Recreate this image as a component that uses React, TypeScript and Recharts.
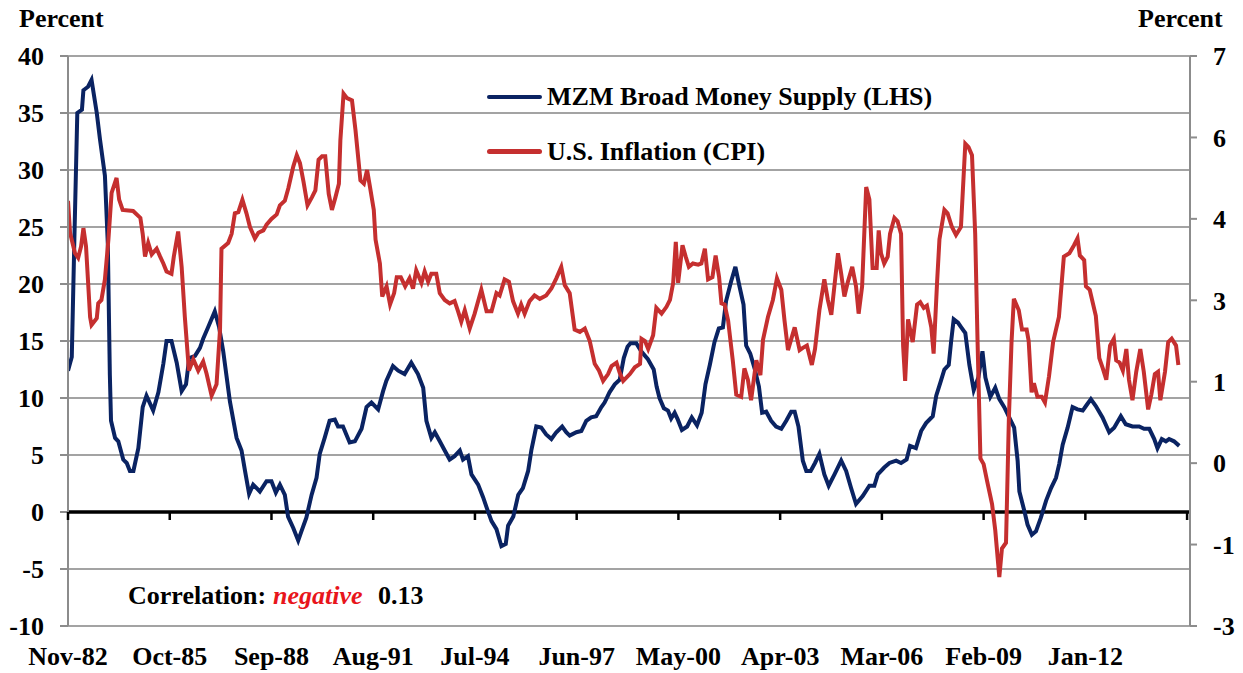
import React from 'react';
import { LineChart, Line, XAxis, YAxis, CartesianGrid, ReferenceLine, Legend } from 'recharts';

const FONT = "'Liberation Serif', 'Times New Roman', serif";

// x axis: months counted from Nov-82
const X_TICKS = [0, 35, 70, 105, 140, 175, 210, 245, 280, 315, 350, 385];
const X_LABELS = ['Nov-82', 'Oct-85', 'Sep-88', 'Aug-91', 'Jul-94', 'Jun-97', 'May-00', 'Apr-03', 'Mar-06', 'Feb-09', 'Jan-12', ''];

const LEFT_TICKS = [-10, -5, 0, 5, 10, 15, 20, 25, 30, 35, 40];
// right axis is split in 7 equal steps, labels rounded like the original
const RIGHT_TICKS = [-3, -1.571, -0.143, 1.286, 2.714, 4.143, 5.571, 7];
const RIGHT_LABELS = ['-3', '-1', '0', '1', '3', '4', '6', '7'];

// MZM growth, % y/y (LHS): [month, value]
const mzmGrowth: [number, number][] = [
  [0, 12.4], [1.3, 13.6], [2.2, 24], [3.2, 35], [4.8, 35.3], [5.3, 37], [6.9, 37.3], [8.1, 37.9],
  [9.9, 35], [11, 32.7], [12.7, 29.5], [13.7, 23.5], [14.4, 12], [14.8, 8], [16.2, 6.5], [17.3, 6.2],
  [19, 4.6], [20.2, 4.3], [21.3, 3.6], [22.5, 3.6], [24.2, 5.6], [25.7, 9.2], [27, 10.2], [29.3, 8.9],
  [31.1, 10.5], [32.8, 13], [33.9, 15], [35.6, 15], [37.4, 13.1], [39.1, 10.6], [40.6, 11.2], [41.7, 13.5],
  [43.7, 13.7], [45.4, 14.4], [46.5, 15.2], [48.2, 16.2], [50.5, 17.6], [52, 16.2], [53.4, 14.1], [55.7, 9.7],
  [58, 6.5], [59.7, 5.4], [60.9, 3.6], [62.3, 1.6], [63.7, 2.4], [66, 1.8], [68.3, 2.7], [70, 2.7],
  [71.5, 1.7], [72.9, 2.4], [74.6, 1.5], [75.7, -0.4], [77.5, -1.4], [79.2, -2.5], [80.3, -1.7], [82, -0.5],
  [83.8, 1.5], [85.5, 3], [86.6, 5.1], [88.3, 6.5], [90, 8], [91.8, 8.1], [92.9, 7.5], [94.6, 7.5],
  [96.9, 6.1], [98.7, 6.2], [101, 7.3], [102.7, 9.2], [104.4, 9.6], [106.7, 9], [108.4, 10.6], [109.5, 11.5],
  [111.8, 12.8], [113.6, 12.4], [115.8, 12.1], [118.1, 13.1], [120.4, 12.1], [122.2, 10.9], [123.3, 8], [125, 6.5],
  [126.2, 7], [127.9, 6.2], [129.6, 5.4], [131.3, 4.6], [133, 4.9], [134.8, 5.4], [135.9, 4.6], [137.6, 4.9],
  [138.8, 3.3], [141.1, 2.4], [142.8, 1.3], [144, 0.4], [145.7, -0.8], [147.4, -1.5], [149.1, -3], [150.6, -2.8],
  [151.4, -1.2], [153.2, -0.4], [154.9, 1.5], [156.5, 2.1], [158.3, 3.6], [159.4, 5.4], [161.1, 7.5], [162.8, 7.4],
  [164.5, 6.8], [166.3, 6.4], [168, 7], [170, 7.5], [171.4, 7], [172.6, 6.7], [174.9, 7], [176.6, 7.1],
  [178.3, 8], [180, 8.3], [181.7, 8.4], [183.5, 9.2], [184.6, 9.6], [186.3, 10.5], [188.1, 11.2], [189.8, 11.6],
  [191.2, 13.5], [192.5, 14.5], [193.5, 14.8], [195.5, 14.8], [197.2, 14.1], [199.5, 13.4], [201.5, 12.5], [202.5, 11],
  [203.5, 10], [205, 9.1], [206.4, 8.9], [207.5, 8.2], [208.7, 8.7], [209.8, 8.1], [211.2, 7.2], [213, 7.5],
  [214.6, 8.3], [216.4, 7.6], [218, 8.7], [219.3, 11.2], [220.8, 12.9], [222.4, 14.9], [223.9, 16.1], [225.3, 16.2],
  [226.4, 18.5], [228.1, 20.2], [229.6, 21.5], [231, 19.8], [232.4, 18.2], [233.3, 14.6], [234.7, 13.9], [236.2, 12.6],
  [237.7, 11], [238.8, 8.7], [240.2, 8.8], [241.9, 8], [243.6, 7.5], [245.4, 7.3], [247.1, 8], [248.8, 8.8],
  [250, 8.8], [251.3, 7.5], [252.8, 4.5], [254, 3.6], [255.5, 3.6], [257, 4.3], [258.5, 5.1], [260.2, 3.3],
  [261.7, 2.3], [263.7, 3.3], [266, 4.5], [267.7, 3.6], [269.4, 2.1], [271.1, 0.7], [273.4, 1.4], [275.7, 2.3],
  [277.4, 2.3], [278.6, 3.3], [280.8, 3.9], [282.6, 4.3], [284.9, 4.5], [286.6, 4.3], [288.5, 4.6], [289.7, 5.8],
  [291.7, 5.6], [293.5, 7.1], [295.2, 7.8], [297.5, 8.4], [298.7, 10.2], [300.3, 11.5], [301.5, 12.5], [303, 12.9],
  [303.8, 14.9], [304.7, 16.9], [306.2, 16.6], [307.3, 16.2], [308.7, 15.7], [310.1, 12.9], [311.6, 10.7], [313.2, 11.8],
  [314.6, 14.1], [315.6, 11.8], [317.3, 10.1], [319, 10.9], [320.4, 9.9], [322.1, 9.2], [323.8, 8.3], [325.5, 7.4],
  [326.7, 4.5], [327.3, 1.8], [329, 0.1], [330.1, -1.1], [331.6, -2], [333, -1.7], [334.7, -0.5], [336.5, 1],
  [338.2, 2.1], [339.9, 3], [341, 4.2], [342.2, 5.9], [343.9, 7.4], [345.6, 9.2], [347.3, 9], [349.1, 8.9],
  [350.2, 9.3], [351.9, 9.9], [353.6, 9.3], [355.9, 8.3], [358.2, 7], [359.9, 7.4], [362.2, 8.4], [363.9, 7.7],
  [366.2, 7.5], [368.5, 7.5], [370.2, 7.3], [372, 7.3], [373.7, 6.4], [374.8, 5.6], [376.3, 6.4], [377.7, 6.2],
  [378.8, 6.4], [380.5, 6.2], [382.3, 5.8],
];

// CPI inflation, % y/y (RHS): [month, value]
const cpiInflation: [number, number][] = [
  [0, 4.46], [0.7, 3.9], [2.4, 3.54], [3.5, 3.46], [4.5, 3.66], [5.3, 3.98], [6.2, 3.66], [7.6, 2.42],
  [8.1, 2.28], [9.9, 2.4], [10.4, 2.66], [11.5, 2.72], [12.7, 3.08], [13.9, 3.78], [15, 4.6], [16.7, 4.86],
  [17.6, 4.48], [18.8, 4.3], [22.4, 4.28], [24.9, 4.16], [25.7, 3.88], [26.5, 3.48], [27.6, 3.72], [28.8, 3.52],
  [30.5, 3.62], [31.7, 3.48], [32.8, 3.36], [33.9, 3.22], [35.6, 3.18], [36.4, 3.48], [37.9, 3.92], [39.1, 3.3],
  [40.2, 2.42], [41.6, 1.48], [43.1, 1.68], [44.8, 1.48], [46.5, 1.64], [47.7, 1.42], [49.4, 1.04], [51.1, 1.24],
  [52.3, 2.2], [52.8, 3.62], [55.1, 3.72], [56.3, 3.88], [57.4, 4.24], [58.6, 4.26], [60, 4.48], [61.4, 4.24],
  [62.6, 4.0], [64.3, 3.8], [65.5, 3.9], [67.2, 3.94], [68.3, 4.04], [70, 4.14], [71.8, 4.22], [72.9, 4.38],
  [74.6, 4.46], [75.8, 4.68], [77.5, 5.06], [78.7, 5.26], [79.8, 5.12], [81, 4.8], [82.4, 4.38], [83.9, 4.52],
  [85.1, 4.64], [86.2, 5.18], [87.4, 5.24], [88.5, 5.24], [89.7, 4.58], [90.8, 4.3], [92, 4.52], [93.2, 4.76],
  [93.7, 5.52], [94.8, 6.34], [96, 6.26], [97.7, 6.22], [98.9, 5.7], [100.6, 4.82], [101.8, 4.76], [102.9, 5.0],
  [103.9, 4.7], [105.2, 4.3], [105.8, 3.78], [107.3, 3.36], [108.1, 2.78], [109.6, 2.96], [110.8, 2.64], [112.2, 2.84],
  [113.1, 3.12], [114.5, 3.12], [116, 2.96], [117.5, 3.1], [118.7, 2.92], [119.8, 3.24], [121.6, 3.02], [122.7, 3.22],
  [123.9, 3.04], [125, 3.18], [126.7, 3.18], [127.9, 2.84], [129.6, 2.72], [131.3, 2.66], [133, 2.7], [134.2, 2.52],
  [135.3, 2.34], [136.5, 2.54], [138.2, 2.22], [139.9, 2.48], [142.2, 2.9], [144, 2.52], [145.7, 2.52], [147.4, 2.84],
  [148.5, 2.8], [150.2, 3.08], [151.7, 3.04], [153.1, 2.7], [154.8, 2.48], [155.9, 2.64], [157.1, 2.48], [158.8, 2.7],
  [160.5, 2.8], [162.3, 2.74], [164.5, 2.8], [166.3, 2.92], [168, 3.1], [169.7, 3.3], [170.9, 2.98], [172.6, 2.84],
  [174.3, 2.2], [176.1, 2.16], [177.8, 2.22], [179.5, 2.0], [181.2, 1.6], [182.7, 1.48], [184.1, 1.3], [185.8, 1.42],
  [187, 1.56], [188.7, 1.62], [189.8, 1.44], [191, 1.3], [193.3, 1.42], [195, 1.54], [196.8, 1.6], [197.3, 2.04],
  [198.5, 2.0], [199.6, 1.86], [201.3, 2.1], [202.4, 2.58], [204.2, 2.48], [205.9, 2.6], [207.1, 2.72], [208.2, 3.02],
  [209.1, 3.74], [209.9, 3.02], [211.4, 3.68], [212.5, 3.48], [213.6, 3.3], [215, 3.36], [216.8, 3.34], [217.9, 3.36],
  [219.1, 3.62], [220.2, 3.08], [221.7, 3.12], [222.8, 3.5], [224, 3.12], [224.8, 2.66], [225.9, 2.64], [227.1, 2.36],
  [228.7, 1.66], [229.9, 1.06], [231.6, 1.02], [232.7, 1.52], [233.9, 1.32], [235, 0.96], [236.8, 1.66], [238.2, 1.4],
  [239.1, 2.02], [240.8, 2.42], [242.5, 2.72], [243.9, 3.1], [245.4, 2.9], [246.5, 2.36], [247.7, 1.84], [250, 2.24],
  [251.7, 1.84], [252.8, 1.88], [254.2, 1.92], [255.9, 1.58], [257, 1.86], [258.5, 2.54], [260.2, 3.08], [261.4, 2.72],
  [262.6, 2.46], [263.7, 2.98], [264.9, 3.54], [266, 3.18], [267.1, 2.78], [268.3, 3.04], [269.8, 3.3], [271.1, 2.96],
  [272, 2.48], [273.2, 2.96], [274.6, 4.7], [275.7, 4.48], [276.8, 3.28], [278.2, 3.28], [278.9, 3.94], [279.7, 3.54],
  [280.8, 3.36], [282, 3.48], [282.8, 3.88], [284.3, 4.16], [285.4, 4.1], [286.6, 3.88], [287.3, 1.92], [288, 1.3],
  [289, 2.38], [290.6, 1.98], [292.1, 2.64], [293.2, 2.68], [294.4, 2.58], [295.5, 2.62], [297, 2.24], [297.8, 1.78],
  [299, 3.04], [299.8, 3.78], [301.5, 4.3], [302.6, 4.24], [304.1, 4.0], [305.5, 3.86], [307.2, 4.0], [308.7, 5.46],
  [309.8, 5.4], [311, 5.26], [312.1, 3.88], [312.9, 2.02], [313.9, -0.06], [315, -0.16], [316.2, -0.46], [317.9, -0.86],
  [319, -1.32], [320.4, -2.14], [321.3, -1.64], [322.7, -1.54], [323.7, 0.66], [324.6, 1.98], [325.4, 2.74], [327.1, 2.54],
  [328.2, 2.2], [329.8, 2.2], [330.5, 2.0], [331.5, 1.1], [332.3, 1.26], [333.5, 1.02], [335, 1.02], [336.1, 0.92],
  [337.5, 1.38], [338.9, 1.98], [340.9, 2.42], [342.6, 3.48], [344.5, 3.54], [346.1, 3.68], [347.3, 3.8], [348.1, 3.5],
  [349.6, 3.42], [350.2, 2.96], [351.5, 2.9], [353.6, 2.44], [354.8, 1.7], [356, 1.52], [357.2, 1.32], [358.5, 1.92],
  [359.8, 2.04], [360.6, 1.66], [361.8, 1.62], [362.9, 1.48], [364.1, 1.86], [365, 1.32], [366.2, 0.96], [367.5, 1.46],
  [368.9, 1.86], [370.1, 1.46], [371.6, 0.8], [372.7, 1.06], [373.9, 1.42], [375, 1.46], [375.8, 0.96], [377.4, 1.46],
  [378.5, 1.98], [379.7, 2.04], [381.2, 1.92], [382, 1.58],
];

const mzmData = mzmGrowth.map(([m, v]) => ({ m, v }));
const cpiData = cpiInflation.map(([m, v]) => ({ m, v }));

const W = 1243;
const H = 673;
const PLOT_TOP = 56;
const PLOT_H = 570;
const LEFT_MIN = -10;
const LEFT_MAX = 40;
const ZERO_Y = PLOT_TOP + (PLOT_H * LEFT_MAX) / (LEFT_MAX - LEFT_MIN);

const tickText = { fontFamily: FONT, fontWeight: 'bold' as const, fontSize: 26, fill: '#000' };

const XTick = (props: any) => {
  const { x, y, payload } = props;
  const i = X_TICKS.indexOf(payload.value);
  return (
    <g>
      <line x1={x} x2={x} y1={ZERO_Y} y2={ZERO_Y + 8} stroke="#000" strokeWidth={2.5} />
      <text x={x} y={y} dy={18.5} textAnchor="middle" style={tickText}>
        {X_LABELS[i]}
      </text>
    </g>
  );
};

const renderLegend = (props: any) => (
  <div style={{ fontFamily: FONT, fontWeight: 'bold', fontSize: 26, color: '#000' }}>
    {props.payload.map((item: any) => (
      <div key={item.value} style={{ display: 'flex', alignItems: 'center', height: 54.4 }}>
        <span style={{ display: 'inline-block', width: 55, height: 4.5, borderRadius: 3, background: item.color, marginRight: 5 }} />
        <span style={{ whiteSpace: 'pre' }}>{item.value}</span>
      </div>
    ))}
  </div>
);

export default function App() {
  return (
    <div style={{ position: 'absolute', left: 0, top: 0, width: W, height: H, background: '#fff' }}>
      <LineChart width={W} height={H} margin={{ top: PLOT_TOP, right: 3, bottom: 0, left: 8 }}>
        <CartesianGrid yAxisId="left" vertical={false} stroke="#a3a3a3" strokeWidth={2} />
        <XAxis
          type="number"
          dataKey="m"
          domain={[0, 386]}
          allowDataOverflow
          ticks={X_TICKS}
          interval={0}
          axisLine={false}
          tickLine={false}
          tickSize={0}
          tickMargin={20}
          height={47}
          tick={<XTick />}
        />
        <YAxis
          yAxisId="left"
          domain={[LEFT_MIN, LEFT_MAX]}
          ticks={LEFT_TICKS}
          interval={0}
          width={60}
          tickSize={8}
          tickMargin={16}
          axisLine={{ stroke: '#8c8c8c', strokeWidth: 2 }}
          tickLine={{ stroke: '#8c8c8c', strokeWidth: 2 }}
          tick={tickText}
        />
        <YAxis
          yAxisId="right"
          orientation="right"
          domain={[-3, 7]}
          ticks={RIGHT_TICKS}
          interval={0}
          width={50}
          tickSize={7}
          tickMargin={16}
          axisLine={{ stroke: '#8c8c8c', strokeWidth: 2 }}
          tickLine={{ stroke: '#8c8c8c', strokeWidth: 2 }}
          tick={tickText}
          tickFormatter={(v: number, i: number) => RIGHT_LABELS[i]}
        />
        <ReferenceLine yAxisId="left" y={0} stroke="#000" strokeWidth={3.5} />
        <Legend
          content={renderLegend}
          layout="vertical"
          verticalAlign="middle"
          align="center"
          wrapperStyle={{ left: 487, top: 70, width: 520 }}
        />
        <Line
          yAxisId="left"
          data={mzmData}
          dataKey="v"
          name="MZM Broad Money Supply (LHS)"
          type="linear"
          stroke="#0a2362"
          strokeWidth={4}
          dot={false}
          isAnimationActive={false}
        />
        <Line
          yAxisId="right"
          data={cpiData}
          dataKey="v"
          name="U.S. Inflation (CPI)"
          type="linear"
          stroke="#c52f2f"
          strokeWidth={4}
          dot={false}
          isAnimationActive={false}
        />
      </LineChart>
      <svg width={W} height={H} style={{ position: 'absolute', left: 0, top: 0, pointerEvents: 'none' }}>
        <g style={{ fontFamily: FONT, fontWeight: 'bold', fontSize: 26 }}>
          <text x={19} y={27} fill="#000">Percent</text>
          <text x={1138} y={27} fill="#000">Percent</text>
          <text x={128} y={604} fill="#000" style={{ whiteSpace: 'pre' }}>
            Correlation:
            <tspan x={273} fill="#e8151b" fontStyle="italic">negative</tspan>
            <tspan x={378}>0.13</tspan>
          </text>
        </g>
      </svg>
    </div>
  );
}
